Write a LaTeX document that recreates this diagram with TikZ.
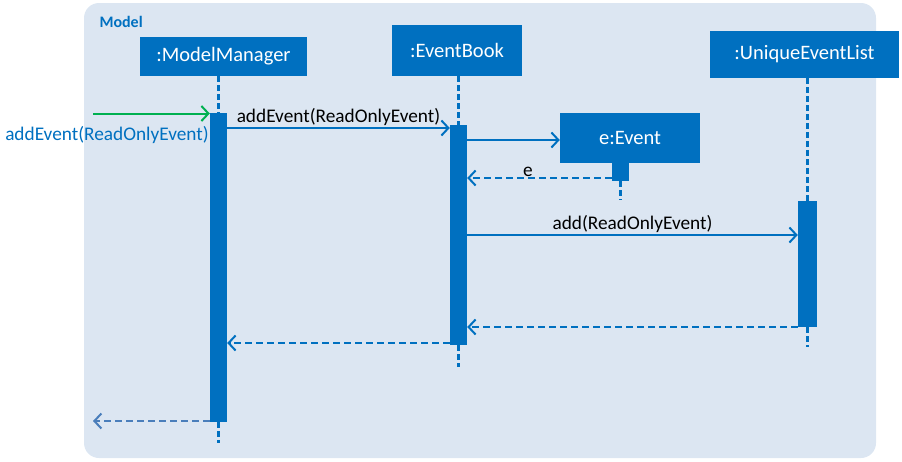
\documentclass[tikz,border=0pt]{standalone}
\usepackage{fontspec}
\setmainfont{Carlito}
\usetikzlibrary{arrows.meta,positioning,calc}
\definecolor{modelblue}{RGB}{0,112,192}
\definecolor{modelbg}{RGB}{220,230,242}
\definecolor{foundgreen}{RGB}{0,176,80}
\definecolor{replyblue}{RGB}{74,126,187}

\begin{document}
\begin{tikzpicture}[x=1pt, y=-1pt, >={Straight Barb[length=7pt,width=15pt]},
    obj/.style={rectangle, fill=modelblue, text=white, inner sep=0pt, font=\fontsize{20.5}{22}\selectfont},
    actbar/.style={rectangle, fill=modelblue, minimum width=17pt, inner sep=0pt, anchor=north},
    lifeline/.style={modelblue, line width=2.2pt, dash pattern=on 6pt off 3pt},
    msg/.style={->, modelblue, line width=2pt},
    reply/.style={->, modelblue, line width=2pt, dash pattern=on 7pt off 4pt},
    lbl/.style={text=black, font=\fontsize{19.3}{21}\selectfont}]

    \useasboundingbox (0,0) rectangle (902,461);
    \fill[modelbg, rounded corners=15pt] (84,3) rectangle (876,458);
    \node[anchor=west, text=modelblue, font=\fontsize{16}{18}\bfseries] (model) at (96,22) {Model};

    % participants
    \node[obj, minimum width=167pt, minimum height=39pt] (mm) at (223.5,56.5) {:ModelManager};
    \node[obj, minimum width=130pt, minimum height=51pt] (eb) at (457,50.5) {:EventBook};
    \node[obj, minimum width=189pt, minimum height=47pt] (uel) at (804.5,54.5) {:UniqueEventList};
    \node[obj, minimum width=140pt, minimum height=50pt] (ev) at (630,138) {e:Event};

    % activation bars
    \node[actbar, minimum height=309pt] (mmbar) at (218.5,113) {};
    \node[actbar, minimum height=220pt] (ebbar) at (458.5,125) {};
    \node[actbar, minimum height=18pt] (evbar) at (620.5,163) {};
    \node[actbar, minimum height=126pt, minimum width=19pt] (uelbar) at (807.5,201) {};

    % lifelines
    \draw[lifeline] (mmbar.north |- mm.south) -- (mmbar.north);
    \draw[lifeline] (mmbar.south) -- ++(0,21);
    \draw[lifeline] (ebbar.north |- eb.south) -- (ebbar.north);
    \draw[lifeline] (ebbar.south) -- ++(0,22);
    \draw[lifeline] (evbar.south) -- ++(0,19);
    \draw[lifeline] (uelbar.north |- uel.south) -- (uelbar.north);
    \draw[lifeline] (uelbar.south) -- ++(0,20);

    % messages
    \coordinate (caller) at (93,113.5);
    \coordinate (back) at (93,421);
    \draw[->, foundgreen, line width=2pt] (caller) -- (caller -| mmbar.west);
    \node[lbl, text=modelblue] (calllbl) at (107,135) {addEvent(ReadOnlyEvent)};

    \draw[msg] (mmbar.east |- 0,128) -- node[lbl, above=-2pt] (m1) {addEvent(ReadOnlyEvent)} (ebbar.west |- 0,128);
    \draw[msg] (ebbar.east |- 0,140) -- (ev.west |- 0,140);
    \draw[reply] (evbar.west |- 0,178) -- node[lbl, above=-3pt, pos=0.58] (r1) {e} (ebbar.east |- 0,178);
    \draw[msg] (ebbar.east |- 0,235) -- node[lbl, above=-2pt] (m3) {add(ReadOnlyEvent)} (uelbar.west |- 0,235);
    \draw[reply] (uelbar.west |- 0,327) -- (ebbar.east |- 0,327);
    \draw[reply] (ebbar.west |- 0,343) -- (mmbar.east |- 0,343);
    \draw[->, replyblue, line width=2pt, dash pattern=on 7pt off 4pt] (mmbar.west |- back) -- (back);
\end{tikzpicture}
\end{document}
